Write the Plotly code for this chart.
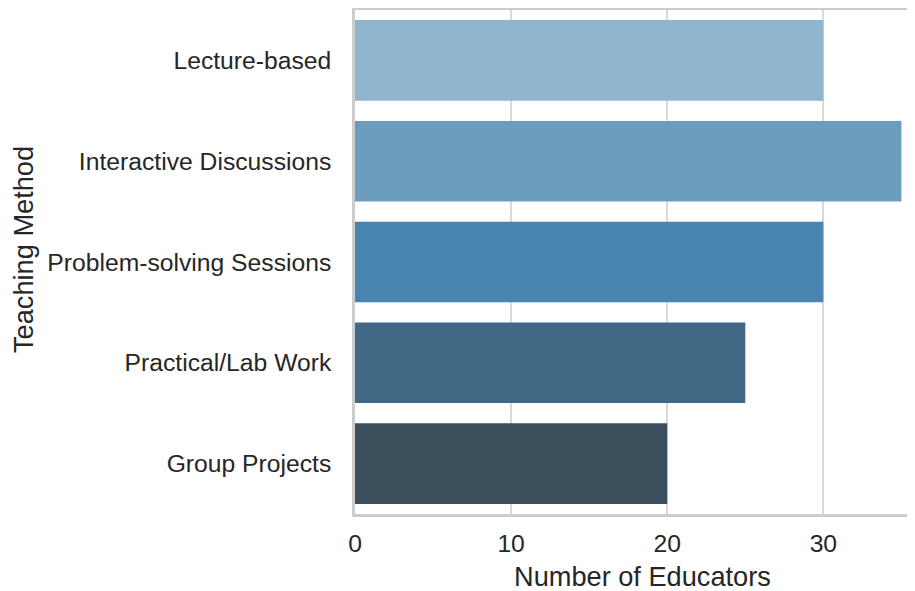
import plotly.graph_objects as go

methods = ["Lecture-based", "Interactive Discussions", "Problem-solving Sessions",
           "Practical/Lab Work", "Group Projects"]
educators = [30, 35, 30, 25, 20]
colors = ["#8FB6CE", "#6C9DBE", "#4884AF", "#416986", "#3A4E5C"]
x_ticks = [0, 10, 20, 30]

fig = go.Figure(go.Bar(
    y=methods, x=educators, orientation="h",
    marker=dict(color=colors, line=dict(width=0)),
    width=0.8,
))

font = "Liberation Sans, Arial, sans-serif"
W, H = 907, 583
L, T, B = 347, 2, 77
fig.update_layout(
    width=W, height=H,
    margin=dict(l=L, r=0, t=T, b=B),
    plot_bgcolor="white", paper_bgcolor="white",
    showlegend=False,
    font=dict(family=font, color="#262626", size=24.7),
    xaxis=dict(
        range=[0, 35.87], tickvals=x_ticks, ticktext=[str(v) for v in x_ticks],
        showgrid=True, gridcolor="#d9d9d9", gridwidth=2,
        showline=True, linecolor="#cccccc", linewidth=2.5, mirror=True,
        zeroline=False, ticks="", ticklen=0, ticklabelstandoff=6,
        tickfont=dict(size=24.7),
    ),
    yaxis=dict(
        categoryorder="array", categoryarray=methods,
        range=[4.5, -0.5],
        showgrid=False, showline=True, linecolor="#cccccc", linewidth=2.5,
        zeroline=False, ticks="", ticklen=0, ticklabelstandoff=16,
        tickfont=dict(size=24.7),
    ),
    annotations=[
        dict(text="Number of Educators", xref="paper", yref="paper",
             x=(634 - L) / (W - L), y=-(568 - (H - B)) / (H - B - T),
             xanchor="center", yanchor="middle", showarrow=False,
             font=dict(size=27.2, color="#262626")),
        dict(text="Teaching Method", xref="paper", yref="paper",
             x=-(L - 15) / (W - L), y=((H - B) - 242) / (H - B - T),
             xanchor="center", yanchor="middle", textangle=-90, showarrow=False,
             font=dict(size=27.2, color="#262626")),
    ],
)

fig.write_html("out.html")
